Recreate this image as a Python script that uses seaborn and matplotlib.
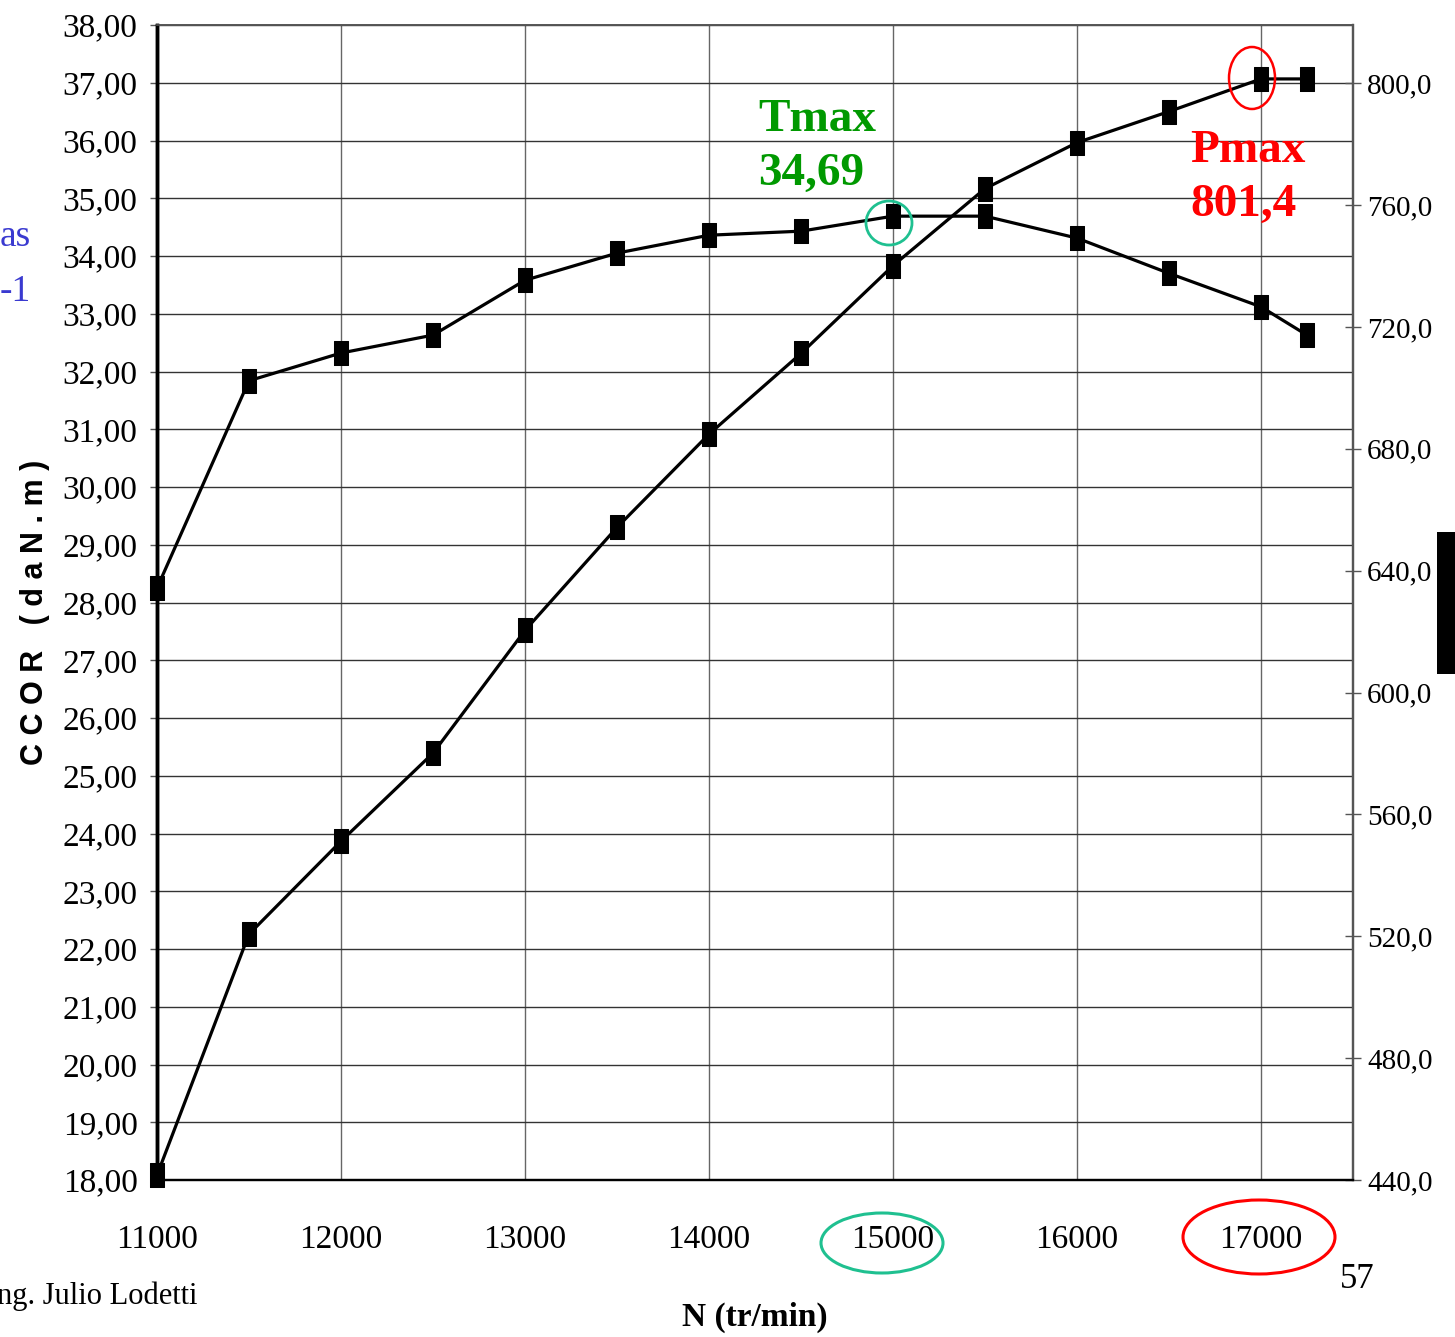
import matplotlib
matplotlib.use("Agg")
import matplotlib.pyplot as plt
import seaborn as sns
import pandas as pd
from matplotlib.patches import Ellipse, Rectangle
from matplotlib.ticker import FuncFormatter, MultipleLocator

# ---------------- data ----------------
rpm = [11000, 11500, 12000, 12500, 13000, 13500, 14000, 14500,
       15000, 15500, 16000, 16500, 17000, 17250]
torque = [28.25, 31.84, 32.32, 32.63, 33.58, 34.05, 34.36, 34.43,
          34.69, 34.69, 34.31, 33.70, 33.12, 32.63]
power = [441.6, 520.7, 551.2, 580.1, 620.4, 654.2, 684.8, 711.3,
         740.1, 765.4, 780.5, 790.7, 801.4, 801.4]
x_ticks = [11000, 12000, 13000, 14000, 15000, 16000, 17000]
tmax_label = "Tmax\n34,69"
pmax_label = "Pmax\n801,4"

df = pd.DataFrame({"rpm": rpm, "torque": torque, "power": power})

# ---------------- figure ----------------
W, H = 1455, 1337
sns.set_style("white")
plt.rcParams["font.family"] = ["Liberation Serif", "DejaVu Serif"]
plt.rcParams["text.color"] = "black"
fig = plt.figure(figsize=(W / 100, H / 100), dpi=100)

def fx(x):
    return x / W

def fy(y):
    return 1 - y / H

ax = fig.add_axes([fx(157), fy(1180), fx(1353) - fx(157), fy(25) - fy(1180)])
ax2 = ax.twinx()

marker = [(-0.6, -1), (0.6, -1), (0.6, 1), (-0.6, 1), (-0.6, -1)]
sns.lineplot(data=df, x="rpm", y="torque", ax=ax, color="black", lw=2.3,
             marker=marker, ms=17, mec="black", mfc="black", clip_on=False,
             zorder=5)
sns.lineplot(data=df, x="rpm", y="power", ax=ax2, color="black", lw=2.3,
             marker=marker, ms=17, mec="black", mfc="black", clip_on=False,
             zorder=5)

ax.set_xlim(11000, 17500)
ax.set_ylim(18, 38)
ax2.set_ylim(440, 819.1)

ax.set_xticks(x_ticks)
ax.yaxis.set_major_locator(MultipleLocator(1))
ax2.yaxis.set_major_locator(MultipleLocator(40))
ax.yaxis.set_major_formatter(FuncFormatter(lambda v, p: f"{v:.2f}".replace(".", ",")))
ax2.yaxis.set_major_formatter(FuncFormatter(lambda v, p: f"{v:.1f}".replace(".", ",")))

ax.grid(True, axis="y", color="#333333", lw=1.0)
ax.grid(True, axis="x", color="#666666", lw=1.0)
ax2.grid(False)

for a in (ax, ax2):
    a.set_xlabel("")
    a.set_ylabel("")
    a.spines["top"].set_color("#555555")
    a.spines["top"].set_linewidth(1.2)
    a.spines["right"].set_color("#555555")
    a.spines["right"].set_linewidth(1.6)
    a.spines["left"].set_linewidth(2.5)
    a.spines["left"].set_color("black")
    a.spines["bottom"].set_linewidth(1.6)
    a.spines["bottom"].set_color("black")

ax.tick_params(axis="y", direction="out", length=5, width=1, color="#555555",
               pad=9, labelsize=24, labelcolor="black")
ax.tick_params(axis="x", direction="out", length=8, width=1, color="#555555",
               pad=24, labelsize=24, labelcolor="black")
ax2.tick_params(axis="y", direction="inout", length=12, width=1, color="#555555",
                pad=4, labelsize=21, labelcolor="black")

# ---------------- text ----------------
fig.text(fx(35), fy(612), "C C O R   ( d a N . m )", rotation=90,
         ha="center", va="center", fontsize=22, fontweight="bold",
         family=["Liberation Sans", "DejaVu Sans"])
fig.text(fx(755), fy(1317), "N (tr/min)", ha="center", va="center",
         fontsize=24, fontweight="bold")
fig.text(fx(198), fy(1296), "ng. Julio Lodetti", ha="right", va="center",
         fontsize=22)
fig.text(fx(1357), fy(1280), "57", ha="center", va="center", fontsize=25)
fig.text(fx(0), fy(237), "as", ha="left", va="center", fontsize=27,
         color="#3a3ad0")
fig.text(fx(0), fy(292), "-1", ha="left", va="center", fontsize=27,
         color="#3a3ad0")

fig.text(fx(758), fy(147), tmax_label, ha="left", va="center", fontsize=34,
         fontweight="bold", color="#009900", linespacing=1.38)
fig.text(fx(1190), fy(178), pmax_label, ha="left", va="center", fontsize=34,
         fontweight="bold", color="#ff0000", linespacing=1.38)

# ---------------- shapes ----------------
tr = fig.dpi_scale_trans

def ell(cx, cy, w, h, color, lw):
    e = Ellipse((cx / 100, (H - cy) / 100), w / 100, h / 100, transform=tr,
                fill=False, edgecolor=color, lw=lw, clip_on=False, zorder=10)
    fig.add_artist(e)

ell(889, 223, 46, 44, "#1fc090", 2.0)
ell(1252, 78, 46, 62, "#ff0000", 1.8)
ell(882, 1243, 122, 60, "#1fc090", 2.2)
ell(1259, 1237, 152, 74, "#ff0000", 2.2)

fig.add_artist(Rectangle((1437 / 100, (H - 674) / 100), 20 / 100, 142 / 100,
                         transform=tr, facecolor="black", edgecolor="none",
                         clip_on=False))

fig.savefig("out.png", dpi=100)
